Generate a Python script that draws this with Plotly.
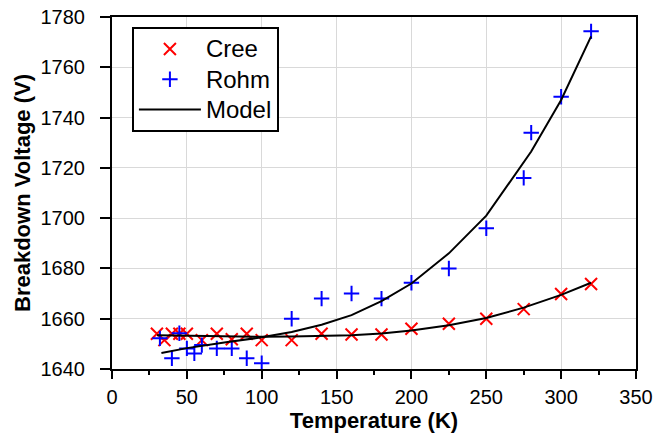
import plotly.graph_objects as go

# Data
cree_T = [30, 35, 40, 45, 50, 60, 70, 80, 90, 100, 120, 140, 160, 180, 200, 225, 250, 275, 300, 320]
cree_V = [1654, 1651.5, 1654, 1654, 1654, 1651.5, 1654, 1651.8, 1654, 1651.5, 1651.5, 1654, 1653.7, 1653.7, 1656, 1658, 1660, 1663.8, 1669.8, 1673.8]

rohm_T = [32, 40, 45, 50, 55, 60, 70, 80, 90, 100, 120, 140, 160, 180, 200, 225, 250, 275, 280, 300, 320]
rohm_V = [1652.2, 1644.3, 1654.2, 1648.2, 1646.2, 1649.5, 1648.2, 1648.2, 1644.3, 1642.3, 1660, 1668, 1670, 1668, 1674.3, 1680, 1696, 1716, 1734, 1748.3, 1774.3]

model_cree_T = [30, 50, 75, 100, 120, 140, 160, 180, 200, 225, 250, 275, 300, 320]
model_cree_V = [1653.4, 1653.2, 1653.0, 1652.8, 1652.9, 1653.1, 1653.4, 1654.1, 1655.3, 1657.4, 1660.3, 1664.4, 1669.5, 1674.3]

model_rohm_T = [33, 50, 75, 100, 120, 140, 160, 180, 200, 225, 250, 275, 280, 300, 320]
model_rohm_V = [1646.4, 1648.3, 1650.5, 1652.6, 1654.7, 1657.6, 1661.4, 1667.0, 1674.0, 1686.0, 1701.0, 1722.0, 1726.5, 1747.0, 1772.3]

x_ticks = [0, 50, 100, 150, 200, 250, 300, 350]
y_ticks = [1640, 1660, 1680, 1700, 1720, 1740, 1760, 1780]

series_names = ["Cree", "Rohm", "Model"]
legend_label = lambda s: f"<span style='font-size:24px'>{s}</span>"

fig = go.Figure()
fig.add_trace(go.Scatter(x=cree_T, y=cree_V, mode="markers", name=legend_label(series_names[0]),
                         marker=dict(symbol="x-thin", size=12, color="#ff0000",
                                     line=dict(color="#ff0000", width=2))))
fig.add_trace(go.Scatter(x=rohm_T, y=rohm_V, mode="markers", name=legend_label(series_names[1]),
                         marker=dict(symbol="cross-thin", size=11, color="#0000ff",
                                     line=dict(color="#0000ff", width=2))))
fig.add_trace(go.Scatter(x=model_rohm_T, y=model_rohm_V, mode="lines", name=legend_label(series_names[2]),
                         line=dict(color="black", width=2)))
fig.add_trace(go.Scatter(x=model_cree_T, y=model_cree_V, mode="lines", name=series_names[2],
                         showlegend=False, line=dict(color="black", width=2)))

font = "Arial, Liberation Sans, sans-serif"
fig.update_layout(
    width=663, height=435,
    margin=dict(l=112, r=27, t=17, b=66),
    paper_bgcolor="white", plot_bgcolor="white",
    font=dict(family=font, size=20, color="black"),
    showlegend=True,
    legend=dict(x=0.038, y=0.972, xanchor="left", yanchor="top",
                bgcolor="white", bordercolor="black", borderwidth=2,
                font=dict(size=21, family=font), itemwidth=62,
                tracegroupgap=0),
    xaxis=dict(range=[0, 350], tickvals=x_ticks, ticks="outside", ticklen=8,
               tickwidth=2, tickcolor="black", showline=True, linewidth=2,
               linecolor="black", mirror=True, showgrid=True, gridcolor="#d9d9d9",
               gridwidth=1, zeroline=False, ticklabelstandoff=1, automargin=False,
               minor=dict(dtick=25, tick0=0, ticks="outside", ticklen=4,
                          tickwidth=2, tickcolor="black", showgrid=False),
               title=dict(text="<b>Temperature (K)</b>", font=dict(size=22),
                          standoff=3)),
    yaxis=dict(range=[1640, 1780], tickvals=y_ticks, ticks="outside", ticklen=10,
               tickwidth=2, tickcolor="black", showline=True, linewidth=2,
               linecolor="black", mirror=True, showgrid=True, gridcolor="#d9d9d9",
               gridwidth=1, zeroline=False, ticklabelstandoff=11, automargin=False,
               title=dict(text="<b>Breakdown Voltage (V)</b>", font=dict(size=22),
                          standoff=4)),
)

fig.write_html("out.html", config={"displayModeBar": False},
               post_script="document.body.style.margin='0';document.body.style.overflow='hidden';")
